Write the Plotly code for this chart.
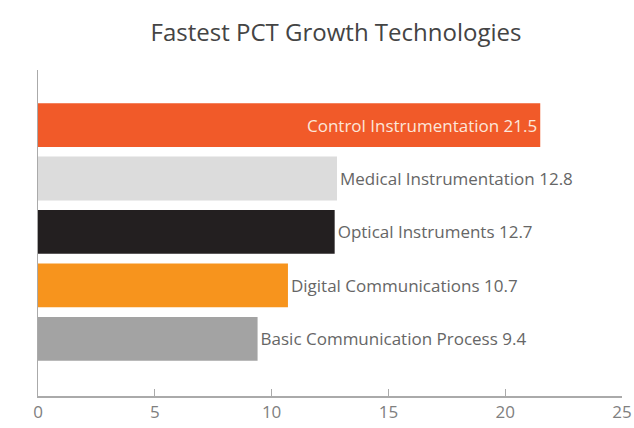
import plotly.graph_objects as go

categories = ["Basic Communication Process", "Digital Communications", "Optical Instruments",
              "Medical Instrumentation", "Control Instrumentation"]
values = [9.4, 10.7, 12.7, 12.8, 21.5]
colors = ["#A3A3A3", "#F7941D", "#231F20", "#DCDCDC", "#F15A29"]
tick_vals = [0, 5, 10, 15, 20, 25]

labels = [f"{c} {v}" for c, v in zip(categories, values)]
positions = ["outside", "outside", "outside", "outside", "inside"]
text_colors = ["#666666", "#666666", "#666666", "#666666", "#FCE6DA"]

fig = go.Figure(go.Bar(
    x=values, y=categories, orientation="h",
    marker=dict(color=colors, line=dict(width=0)),
    text=labels, textposition=positions,
    insidetextanchor="end",
    textfont=dict(family="Open Sans", size=17, color=text_colors),
    cliponaxis=False,
))

fig.update_layout(
    width=634, height=428,
    margin=dict(l=38, r=12, t=70, b=32),
    paper_bgcolor="white", plot_bgcolor="white",
    bargap=0.18,
    showlegend=False,
    title=dict(text="Fastest PCT Growth Technologies", x=0.53, xanchor="center",
               y=0.925, yanchor="middle",
               font=dict(family="Open Sans", size=24, color="#444444")),
)
fig.update_xaxes(range=[0, 25], tickvals=tick_vals, showgrid=False, zeroline=False,
                 showline=True, linecolor="#AAAAAA", linewidth=2,
                 ticks="inside", ticklen=7, tickcolor="#AAAAAA", tickwidth=1,
                 tickfont=dict(family="Open Sans", size=17, color="#808080"),
                 automargin=False)
fig.update_yaxes(range=[-1.07, 5.03], showticklabels=False, showgrid=False, zeroline=False,
                 showline=True, linecolor="#AAAAAA", linewidth=1, ticks="",
                 automargin=False)

fig.write_html("out.html")
